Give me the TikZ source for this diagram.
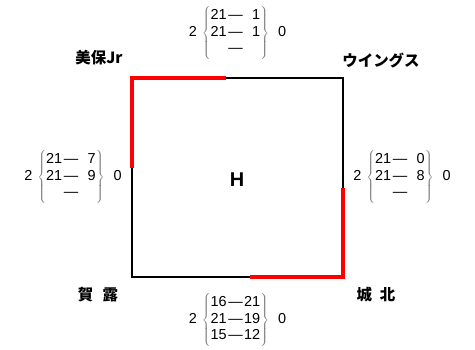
\documentclass[tikz,border=0pt]{standalone}
\usepackage{fontspec}
\setmainfont{Liberation Sans}
\newfontfamily\jp{Noto Sans CJK JP}
% Bloc de score : total gauche, trois sets, total droit
\newcommand{\Score}[5]{#1\hspace{5bp}$\delimitershortfall=-1pt\color{gray}\left\{\color{black}\begin{tabular}{@{}r@{\hspace{1.5bp}}c@{\hspace{1.5bp}}r@{}}#2\\#3\\#4\end{tabular}\color{gray}\right\}$\hspace{9bp}#5}
\begin{document}
\begin{tikzpicture}[x=1bp,y=-1bp]
% Styles
\tikzstyle{cote}=[line width=1.6pt]
\tikzstyle{gagne}=[red,line width=3.6pt]
\tikzstyle{equipe}=[font=\jp\bfseries\fontsize{15.5}{17}\selectfont,inner sep=0pt]
\tikzstyle{score}=[font=\fontsize{14.5}{16.5}\selectfont,inner sep=0pt]
\useasboundingbox (0,0) rectangle (475,349);
% Coins
\coordinate (NO) at (132,78);
\coordinate (NE) at (343,78);
\coordinate (SE) at (343,277);
\coordinate (SO) at (132,277);
\coordinate (Nm) at (226,78);
\coordinate (Om) at (132,168);
\coordinate (Em) at (343,188);
\coordinate (Sm) at (250,277);
% Cotes
\draw[cote] (NO)--(NE)--(SE)--(SO)--cycle;
\draw[gagne] (Om)--(NO)--(Nm);
\draw[gagne] (Em)--(SE)--(Sm);
% Equipes
\node[equipe] (Miho) at (99,58) {美保Jr};
\node[equipe] (Wings) at (381,60) {ウイングス};
\node[equipe] (Kaya) at (98,295) {賀\hspace{0.6em}露};
\node[equipe] (Johoku) at (376,295) {城\hspace{0.5em}北};
\node[font=\fontsize{20}{24}\selectfont\bfseries] (H) at (237,180) {H};
% Scores
\node[score] (Shaut) at (237.5,33) {\Score{2}{21&—&\phantom{0}1}{21&—&\phantom{0}1}{&—&}{0}};
\node[score] (Sgauche) at (73,177) {\Score{2}{21&—&\phantom{0}7}{21&—&\phantom{0}9}{&—&}{0}};
\node[score] (Sdroite) at (402,177) {\Score{2}{21&—&\phantom{0}0}{21&—&\phantom{0}8}{&—&}{0}};
\node[score] (Sbas) at (237.5,320) {\Score{2}{16&—&21}{21&—&19}{15&—&12}{0}};
\end{tikzpicture}
\end{document}
